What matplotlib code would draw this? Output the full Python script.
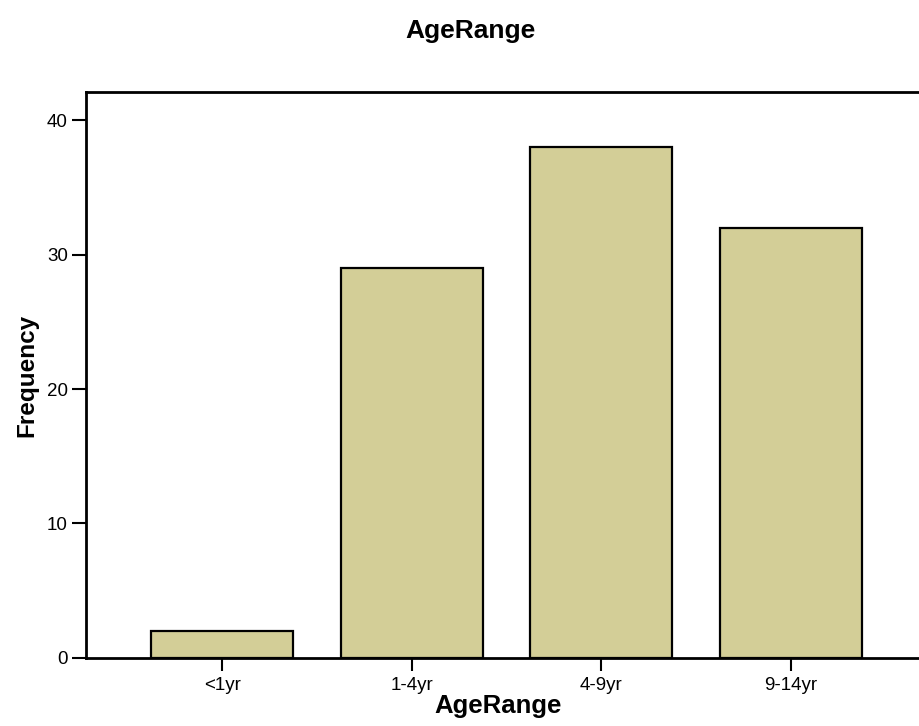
import matplotlib
matplotlib.use("Agg")
import matplotlib.pyplot as plt

# 数据
categories = ["<1yr", "1-4yr", "4-9yr", "9-14yr"]
frequency = [2, 29, 38, 32]
y_ticks = [0, 10, 20, 30, 40]

plt.rcParams["font.family"] = ["Liberation Sans", "DejaVu Sans"]

fig = plt.figure(figsize=(9.19, 7.26), dpi=100)
ax = fig.add_axes([0.0936, 0.0937, 0.915, 0.7795])

x = range(len(categories))
ax.bar(x, frequency, width=0.75, color="#d3ce97", edgecolor="black",
       linewidth=1.6, zorder=3)

ax.set_xlim(-0.72, 3.72)
ax.set_ylim(0, 42.08)
ax.set_xticks(list(x))
ax.set_xticklabels(categories, fontsize=13.5)
ax.set_yticks(y_ticks)
ax.set_yticklabels([str(v) for v in y_ticks], fontsize=13.5)

for s in ax.spines.values():
    s.set_linewidth(2.0)
ax.spines["right"].set_visible(False)

ax.tick_params(axis="y", length=10, width=1.5, pad=3)
ax.tick_params(axis="x", length=9.5, width=1.5, pad=4)

ax.set_xlabel("AgeRange", fontsize=18.5, fontweight="bold")
ax.xaxis.set_label_coords(0.49, -0.063)
ax.set_ylabel("Frequency", fontsize=17.5, fontweight="bold", labelpad=6)
fig.text(0.5115, 0.957, "AgeRange", fontsize=19, fontweight="bold",
         ha="center", va="center")

fig.savefig("out.png", dpi=100)
